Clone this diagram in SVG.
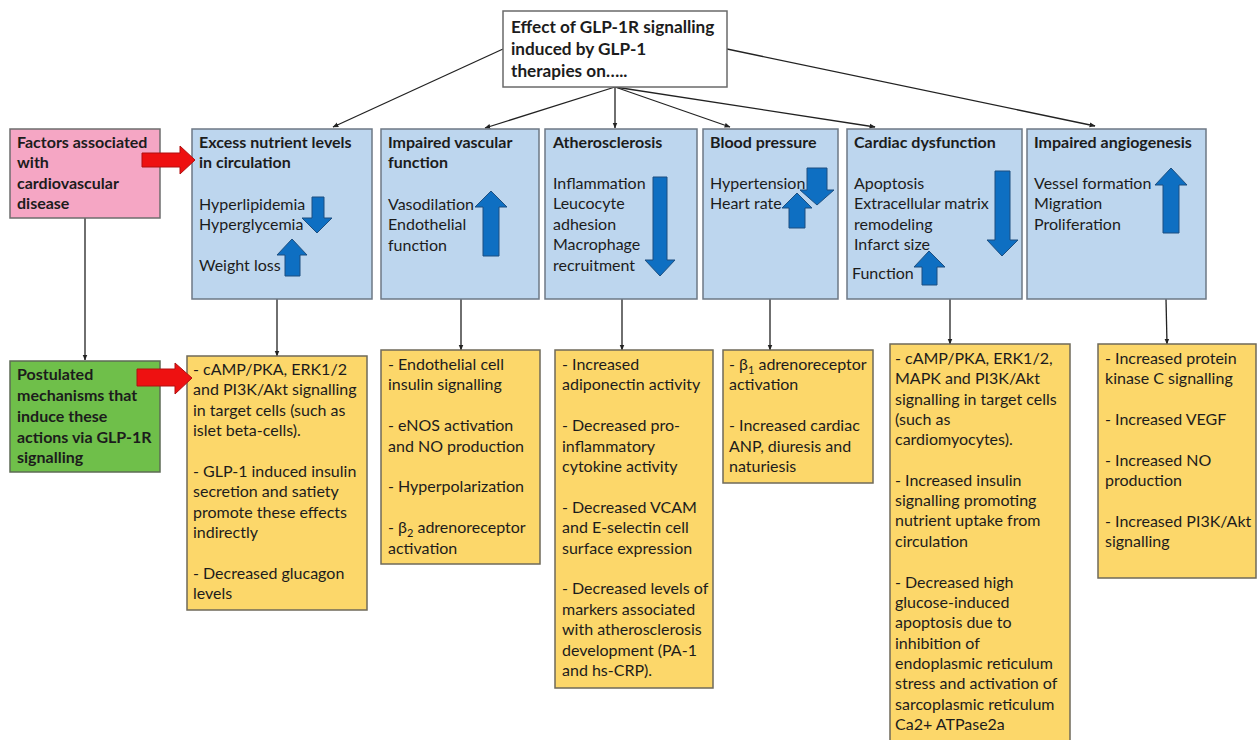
<svg xmlns="http://www.w3.org/2000/svg" width="1257" height="740" viewBox="0 0 1257 740">
<defs>
<marker id="ah" viewBox="0 0 10 10" refX="9" refY="5" markerWidth="6" markerHeight="6" markerUnits="userSpaceOnUse" orient="auto">
<path d="M0,1 L10,5 L0,9 z" fill="#222"/>
</marker>
<style>
text{font-family:Lato,"Liberation Sans",Arial,sans-serif;font-size:16px;fill:#1c1c1c}
.b{font-weight:bold}
.t{font-size:17.2px}
.top{fill:#fff;stroke:#6a6a6a;stroke-width:1.5}
.blue{fill:#bdd6ee;stroke:#6d7885;stroke-width:1.5}
.yel{fill:#fcd76a;stroke:#6f6a5a;stroke-width:1.5}
.pink{fill:#f5a6c4;stroke:#6d6d6d;stroke-width:1.5}
.green{fill:#6fbf4a;stroke:#5d6b55;stroke-width:1.5}
.red{fill:#ee1111;stroke:#b01010;stroke-width:1}
.ba{fill:#0e6fc2;stroke:#1d4f80;stroke-width:1}
.c{stroke:#222;stroke-width:1.3;fill:none}
</style>
</defs>
<rect width="1257" height="740" fill="#fff"/>

<g id="connectors">
<line class="c" x1="503" y1="49" x2="333" y2="127" marker-end="url(#ah)"/>
<line class="c" x1="615" y1="87" x2="485" y2="128" marker-end="url(#ah)"/>
<line class="c" x1="615" y1="87" x2="615" y2="128" marker-end="url(#ah)"/>
<line class="c" x1="615" y1="87" x2="730" y2="127" marker-end="url(#ah)"/>
<line class="c" x1="615" y1="87" x2="875" y2="127" marker-end="url(#ah)"/>
<line class="c" x1="727" y1="49" x2="1095" y2="126" marker-end="url(#ah)"/>
<line class="c" x1="85" y1="218" x2="85" y2="360" marker-end="url(#ah)"/>
<line class="c" x1="277" y1="299" x2="277" y2="356" marker-end="url(#ah)"/>
<line class="c" x1="461" y1="299" x2="461" y2="350" marker-end="url(#ah)"/>
<line class="c" x1="622" y1="299" x2="622" y2="350" marker-end="url(#ah)"/>
<line class="c" x1="770" y1="299" x2="770" y2="350" marker-end="url(#ah)"/>
<line class="c" x1="950" y1="299" x2="950" y2="344" marker-end="url(#ah)"/>
<line class="c" x1="1166" y1="299" x2="1167" y2="344" marker-end="url(#ah)"/>
</g>

<g id="top">
<rect class="top" x="503" y="11" width="224" height="76"/>
<text class="b t" x="511" y="33">Effect of GLP-1R signalling</text>
<text class="b t" x="511" y="55">induced by GLP-1</text>
<text class="b t" x="511" y="77">therapies on…..</text>
</g>

<g id="factors">
<rect class="pink" x="10" y="129" width="150" height="89"/>
<text class="b" x="17" y="148">Factors associated</text>
<text class="b" x="17" y="168">with</text>
<text class="b" x="17" y="189">cardiovascular</text>
<text class="b" x="17" y="209">disease</text>
</g>

<g id="mechanisms">
<rect class="green" x="10" y="361" width="150" height="111"/>
<text class="b" x="17" y="380">Postulated</text>
<text class="b" x="17" y="401">mechanisms that</text>
<text class="b" x="17" y="422">induce these</text>
<text class="b" x="17" y="443">actions via GLP-1R</text>
<text class="b" x="17" y="463">signalling</text>
</g>

<g id="nutrient">
<rect class="blue" x="192" y="129" width="180" height="170"/>
<text class="b" x="199" y="148">Excess nutrient levels</text>
<text class="b" x="199" y="168">in circulation</text>
<text x="199" y="210">Hyperlipidemia</text>
<text x="199" y="230">Hyperglycemia</text>
<text x="199" y="271">Weight loss</text>
<polygon class="ba" points="312,197 324,197 324,218 332,218 317,233 302,218 312,218"/>
<polygon class="ba" points="285,276 300,276 300,255 307,255 292,239 277,255 285,255"/>
</g>

<g id="vascular">
<rect class="blue" x="381" y="129" width="158" height="170"/>
<text class="b" x="388" y="148">Impaired vascular</text>
<text class="b" x="388" y="168">function</text>
<text x="388" y="210">Vasodilation</text>
<text x="388" y="230">Endothelial</text>
<text x="388" y="251">function</text>
<polygon class="ba" points="483,256 499,256 499,207 507,207 491,191 475,207 483,207"/>
</g>

<g id="athero">
<rect class="blue" x="545" y="129" width="152" height="170"/>
<text class="b" x="553" y="148">Atherosclerosis</text>
<text x="553" y="189">Inflammation</text>
<text x="553" y="209">Leucocyte</text>
<text x="553" y="230">adhesion</text>
<text x="553" y="250">Macrophage</text>
<text x="553" y="271">recruitment</text>
<polygon class="ba" points="653,177 667,177 667,260 675,260 660,276 645,260 653,260"/>
</g>

<g id="bp">
<rect class="blue" x="703" y="129" width="135" height="170"/>
<text class="b" x="710" y="148">Blood pressure</text>
<text x="710" y="189">Hypertension</text>
<text x="710" y="209">Heart rate</text>
<polygon class="ba" points="807,168 827,168 827,190 834,190 817,205 800,190 807,190"/>
<polygon class="ba" points="789,228 805,228 805,208 812,208 797,193 782,208 789,208"/>
</g>

<g id="cardiac">
<rect class="blue" x="847" y="129" width="175" height="170"/>
<text class="b" x="854" y="148">Cardiac dysfunction</text>
<text x="854" y="189">Apoptosis</text>
<text x="854" y="209">Extracellular matrix</text>
<text x="854" y="230">remodeling</text>
<text x="854" y="250">Infarct size</text>
<text x="852" y="279">Function</text>
<polygon class="ba" points="995,171 1010,171 1010,240 1018,240 1002,256 987,240 995,240"/>
<polygon class="ba" points="922,285 937,285 937,267 945,267 929,251 914,267 922,267"/>
</g>

<g id="angio">
<rect class="blue" x="1027" y="129" width="179" height="170"/>
<text class="b" x="1034" y="148">Impaired angiogenesis</text>
<text x="1034" y="189">Vessel formation</text>
<text x="1034" y="209">Migration</text>
<text x="1034" y="230">Proliferation</text>
<polygon class="ba" points="1163,233 1179,233 1179,185 1187,185 1171,168 1155,185 1163,185"/>
</g>

<g id="mech-nutrient">
<rect class="yel" x="187" y="356" width="180" height="254"/>
<text x="193" y="375">- cAMP/PKA, ERK1/2</text>
<text x="193" y="395">and PI3K/Akt signalling</text>
<text x="193" y="416">in target cells (such as</text>
<text x="193" y="436">islet beta-cells).</text>
<text x="193" y="477">- GLP-1 induced insulin</text>
<text x="193" y="497">secretion and satiety</text>
<text x="193" y="518">promote these effects</text>
<text x="193" y="538">indirectly</text>
<text x="193" y="579">- Decreased glucagon</text>
<text x="193" y="599">levels</text>
</g>

<g id="mech-vascular">
<rect class="yel" x="381" y="350" width="159" height="214"/>
<text x="388" y="370">- Endothelial cell</text>
<text x="388" y="390">insulin signalling</text>
<text x="388" y="431">- eNOS activation</text>
<text x="388" y="452">and NO production</text>
<text x="388" y="492">- Hyperpolarization</text>
<text x="388" y="533">- β<tspan font-size="11" dy="4">2</tspan><tspan dy="-4"> adrenoreceptor</tspan></text>
<text x="388" y="554">activation</text>
</g>

<g id="mech-athero">
<rect class="yel" x="555" y="350" width="158" height="338"/>
<text x="562" y="370">- Increased</text>
<text x="562" y="390">adiponectin activity</text>
<text x="562" y="431">- Decreased pro-</text>
<text x="562" y="452">inflammatory</text>
<text x="562" y="472">cytokine activity</text>
<text x="562" y="513">- Decreased VCAM</text>
<text x="562" y="533">and E-selectin cell</text>
<text x="562" y="554">surface expression</text>
<text x="562" y="594">- Decreased levels of</text>
<text x="562" y="615">markers associated</text>
<text x="562" y="635">with atherosclerosis</text>
<text x="562" y="656">development (PA-1</text>
<text x="562" y="676">and hs-CRP).</text>
</g>

<g id="mech-bp">
<rect class="yel" x="723" y="350" width="150" height="133"/>
<text x="729" y="370">- β<tspan font-size="11" dy="4">1</tspan><tspan dy="-4"> adrenoreceptor</tspan></text>
<text x="729" y="390">activation</text>
<text x="729" y="431">- Increased cardiac</text>
<text x="729" y="452">ANP, diuresis and</text>
<text x="729" y="472">naturiesis</text>
</g>

<g id="mech-cardiac">
<rect class="yel" x="890" y="344" width="180" height="400"/>
<text x="895" y="364">- cAMP/PKA, ERK1/2,</text>
<text x="895" y="384">MAPK and PI3K/Akt</text>
<text x="895" y="405">signalling in target cells</text>
<text x="895" y="425">(such as</text>
<text x="895" y="445">cardiomyocytes).</text>
<text x="895" y="486">- Increased insulin</text>
<text x="895" y="506">signalling promoting</text>
<text x="895" y="526">nutrient uptake from</text>
<text x="895" y="547">circulation</text>
<text x="895" y="588">- Decreased high</text>
<text x="895" y="608">glucose-induced</text>
<text x="895" y="628">apoptosis due to</text>
<text x="895" y="649">inhibition of</text>
<text x="895" y="669">endoplasmic reticulum</text>
<text x="895" y="689">stress and activation of</text>
<text x="895" y="710">sarcoplasmic reticulum</text>
<text x="895" y="730">Ca2+ ATPase2a</text>
</g>

<g id="mech-angio">
<rect class="yel" x="1098" y="344" width="158" height="234"/>
<text x="1105" y="364">- Increased protein</text>
<text x="1105" y="384">kinase C signalling</text>
<text x="1105" y="425">- Increased VEGF</text>
<text x="1105" y="466">- Increased NO</text>
<text x="1105" y="486">production</text>
<text x="1105" y="527">- Increased PI3K/Akt</text>
<text x="1105" y="547">signalling</text>
</g>

<g id="red-arrows">
<polygon class="red" points="142,153 180,153 180,146 195,160 180,174 180,167 142,167"/>
<polygon class="red" points="137,369 175,369 175,363 192,378 175,394 175,386 137,386"/>
</g>
</svg>
